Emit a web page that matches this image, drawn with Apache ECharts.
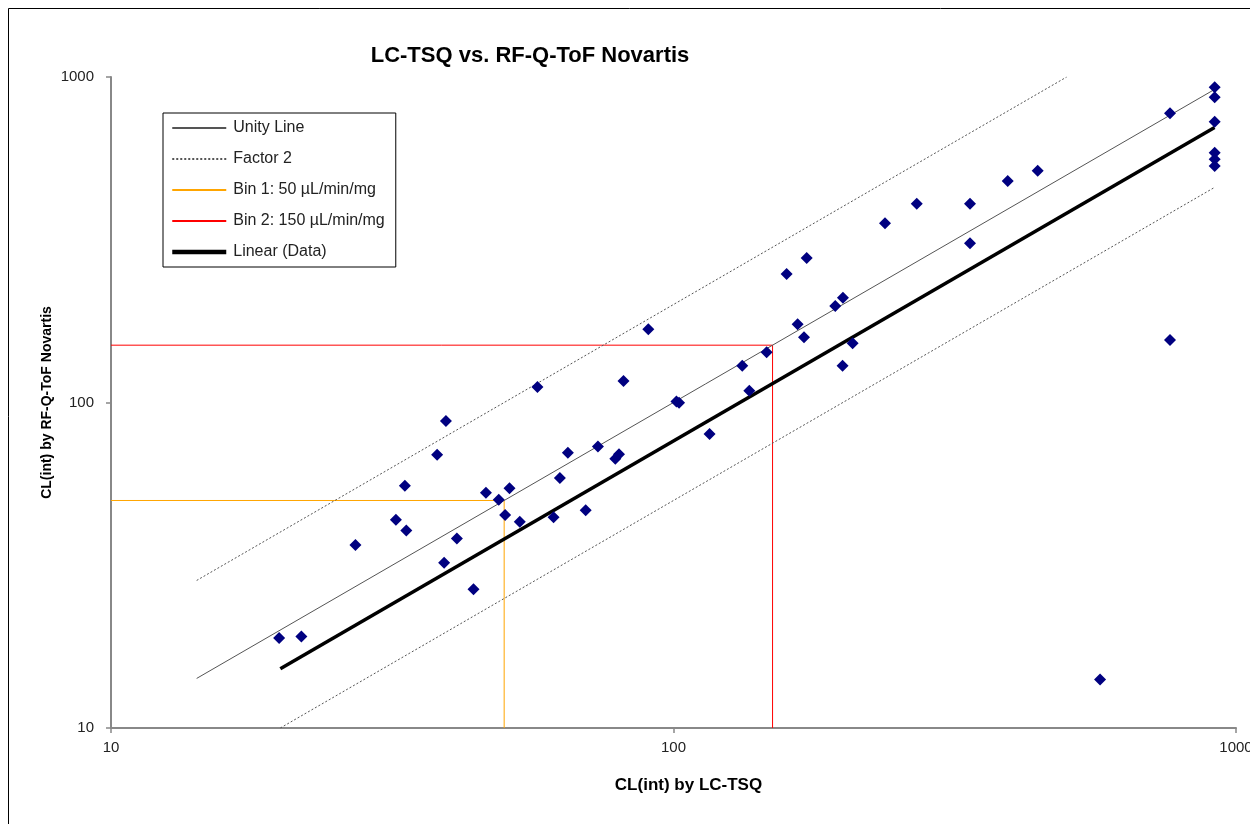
<!DOCTYPE html>
<html>
<head>
<meta charset="utf-8">
<script src="https://cdn.jsdelivr.net/npm/echarts@6/dist/echarts.min.js"></script>
<style>
html,body{margin:0;padding:0;background:#fff;}
#chart{width:1250px;height:824px;}
</style>
</head>
<body>
<div id="chart"></div>
<script>
// ---- Data ----
const dataX = [19.9, 21.8, 27.2, 32.1, 33.3, 33.5, 38.0, 39.1, 39.4, 41.2, 44.1, 46.4, 48.9, 50.2, 51.1, 53.3, 57.3, 61.2, 62.8, 64.9, 69.8, 73.4, 78.8, 80.0, 81.5, 90.2, 101.2, 102.3, 115.9, 132.5, 136.4, 146.4, 158.9, 166.2, 170.6, 172.5, 193.9, 200.1, 199.8, 208.2, 237.7, 270.7, 336.6, 336.6, 392.8, 444.1, 573.2, 763.2, 763.2, 916.4, 916.4, 916.4, 916.4, 916.4, 916.4];
const dataY = [18.9, 19.1, 36.5, 43.6, 55.5, 40.4, 69.1, 32.2, 87.8, 38.2, 26.7, 52.8, 50.3, 45.1, 54.5, 43.0, 111.6, 44.4, 58.6, 70.1, 46.7, 73.3, 67.2, 69.3, 116.4, 167.8, 100.7, 99.8, 80.0, 129.8, 108.7, 142.6, 248.2, 173.9, 158.6, 277.9, 197.9, 209.9, 129.8, 152.0, 355.3, 408.1, 408.1, 308.4, 479.1, 515.3, 14.1, 773.5, 155.6, 929.7, 866.1, 729.1, 585.4, 558.8, 532.9];
const unityLine = [[14.2, 14.2], [916, 916]];
const factor2Upper = [[14.2, 28.4], [500, 1000]];
const factor2Lower = [[20, 10], [916, 458]];
const bin1 = [[10, 50], [50, 50], [50, 10]];
const bin2 = [[10, 150], [150, 150], [150, 10]];
const trendLine = [[20, 15.2], [916, 700]];
const xTicks = [10, 100, 1000];
const yTicks = [10, 100, 1000];
const legendNames = ['Unity Line', 'Factor 2', 'Bin 1: 50 µL/min/mg', 'Bin 2: 150 µL/min/mg', 'Linear (Data)'];

const FONT = "'Liberation Sans', Arial, sans-serif";
const chart = echarts.init(document.getElementById('chart'), null, {renderer: 'canvas'});

const scatterData = dataX.map((x, i) => [x, dataY[i]]);

const axisCommon = {
  type: 'log',
  logBase: 10,
  min: 10,
  max: 1000,
  splitLine: {show: false},
  minorTick: {show: false},
  axisLine: {show: true, lineStyle: {color: '#888888', width: 2}},
  axisTick: {show: true, inside: false, length: 5, lineStyle: {color: '#888888', width: 1.5}},
};

const legendData = legendNames.map(n => (
  n === 'Linear (Data)' ? {name: n, lineStyle: {width: 4.5, color: '#000'}} : {name: n}
));

const option = {
  animation: false,
  backgroundColor: '#ffffff',
  textStyle: {fontFamily: FONT},
  title: {
    text: 'LC-TSQ vs. RF-Q-ToF Novartis',
    left: 530,
    top: 45,
    textAlign: 'center',
    padding: 0,
    textStyle: {fontFamily: FONT, fontSize: 22, fontWeight: 'bold', color: '#000'}
  },
  grid: {
    left: 111, right: 14, top: 77, bottom: 96,
    containLabel: false,
    outerBoundsMode: 'none'
  },
  legend: {
    data: legendData,
    orient: 'vertical',
    left: 163,
    top: 113,
    backgroundColor: '#ffffff',
    borderColor: '#000000',
    borderWidth: 1,
    borderRadius: 0,
    padding: [7, 11, 7, 7],
    itemGap: 15,
    itemWidth: 54,
    itemHeight: 14,
    selectedMode: false,
    itemStyle: {opacity: 0},
    textStyle: {fontFamily: FONT, fontSize: 16, color: '#222', padding: [0, 0, 0, 2]}
  },
  xAxis: Object.assign({}, axisCommon, {
    name: 'CL(int) by LC-TSQ',
    nameLocation: 'middle',
    nameGap: 49,
    nameMoveOverlap: false,
    nameTextStyle: {fontFamily: FONT, fontSize: 17, fontWeight: 'bold', color: '#000', padding: [0, 0, 0, 30]},
    axisLabel: {
      margin: 12, fontFamily: FONT, fontSize: 15, color: '#222',
      showMinLabel: true, showMaxLabel: true,
      formatter: v => (xTicks.indexOf(Math.round(v)) >= 0 ? String(Math.round(v)) : '')
    }
  }),
  yAxis: Object.assign({}, axisCommon, {
    name: 'CL(int) by RF-Q-ToF Novartis',
    nameLocation: 'middle',
    nameGap: 57,
    nameMoveOverlap: false,
    nameRotate: 90,
    nameTextStyle: {fontFamily: FONT, fontSize: 14, fontWeight: 'bold', color: '#000'},
    axisLabel: {
      margin: 17, fontFamily: FONT, fontSize: 15, color: '#222',
      showMinLabel: true, showMaxLabel: true,
      formatter: v => (yTicks.indexOf(Math.round(v)) >= 0 ? String(Math.round(v)) : '')
    }
  }),
  series: [
    {
      name: 'Bin 1: 50 µL/min/mg', type: 'line', data: bin1, symbol: 'none', silent: true,
      lineStyle: {color: '#FFA500', width: 1}, itemStyle: {color: '#FFA500'}, z: 1
    },
    {
      name: 'Bin 2: 150 µL/min/mg', type: 'line', data: bin2, symbol: 'none', silent: true,
      lineStyle: {color: '#FF0000', width: 1}, itemStyle: {color: '#FF0000'}, z: 1
    },
    {
      name: 'Unity Line', type: 'line', data: unityLine, symbol: 'none', silent: true,
      lineStyle: {color: '#555555', width: 1}, itemStyle: {color: '#000'}, z: 2
    },
    {
      name: 'Factor 2', type: 'line', data: factor2Upper, symbol: 'none', silent: true,
      lineStyle: {color: '#555555', width: 1, type: [2, 2]}, itemStyle: {color: '#000'}, z: 2
    },
    {
      name: 'Factor 2', type: 'line', data: factor2Lower, symbol: 'none', silent: true,
      lineStyle: {color: '#555555', width: 1, type: [2, 2]}, itemStyle: {color: '#000'}, z: 2
    },
    {
      name: 'Linear (Data)', type: 'line', data: trendLine, symbol: 'none', silent: true,
      lineStyle: {color: '#000000', width: 3.5}, itemStyle: {color: '#000'}, z: 3
    },
    {
      name: 'Data', type: 'scatter', data: scatterData, symbol: 'diamond', symbolSize: 12,
      itemStyle: {color: '#000080', opacity: 1}, z: 4
    }
  ],
  graphic: [
    {
      type: 'rect', silent: true, z: 100,
      shape: {x: 8.5, y: 8.5, width: 1300, height: 900},
      style: {fill: null, stroke: '#000000', lineWidth: 1}
    }
  ]
};

chart.setOption(option);
</script>
</body>
</html>
